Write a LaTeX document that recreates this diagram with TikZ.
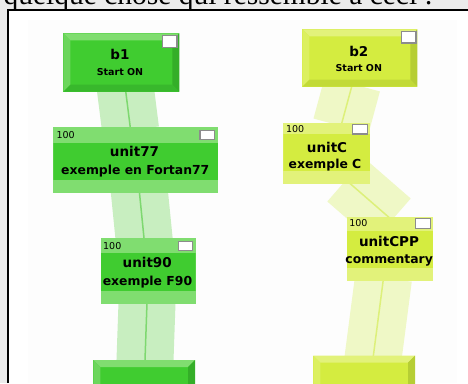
\documentclass[tikz,border=0pt]{standalone}
\usepackage{fontspec}
\setmainfont{Liberation Serif}
\newfontfamily\uifont{DejaVu Sans}
\usetikzlibrary{calc}

% palette
\definecolor{pagegray}{HTML}{EBEBEB}
\definecolor{panel}{HTML}{FDFDFD}
\definecolor{gface}{HTML}{40CC30}
\definecolor{glight}{HTML}{80DD70}
\definecolor{gleft}{HTML}{6CD65C}
\definecolor{gdark}{HTML}{34AE28}
\definecolor{gbottom}{HTML}{38B82C}
\definecolor{gband}{HTML}{C8EEC0}
\definecolor{gline}{HTML}{7ED870}
\definecolor{yface}{HTML}{D4EC40}
\definecolor{ylight}{HTML}{E2F27A}
\definecolor{yleft}{HTML}{DCF060}
\definecolor{ydark}{HTML}{B6CE34}
\definecolor{ybottom}{HTML}{C2DA38}
\definecolor{yband}{HTML}{EFF8C6}
\definecolor{yline}{HTML}{DDF07A}
\definecolor{chkgray}{HTML}{8C8C8C}

\tikzset{
  % raised block with a bevelled rim: top, left, right, bottom colours
  bevel/.style n args={4}{rectangle, inner sep=0pt, path picture={
    \fill[#1] (path picture bounding box.north west) -- (path picture bounding box.north east)
      -- ([xshift=-7pt,yshift=-7pt]path picture bounding box.north east)
      -- ([xshift=7pt,yshift=-7pt]path picture bounding box.north west) -- cycle;
    \fill[#2] (path picture bounding box.north west) -- ([xshift=7pt,yshift=-7pt]path picture bounding box.north west)
      -- ([xshift=7pt,yshift=7pt]path picture bounding box.south west)
      -- (path picture bounding box.south west) -- cycle;
    \fill[#3] (path picture bounding box.north east) -- ([xshift=-7pt,yshift=-7pt]path picture bounding box.north east)
      -- ([xshift=-7pt,yshift=7pt]path picture bounding box.south east)
      -- (path picture bounding box.south east) -- cycle;
    \fill[#4] (path picture bounding box.south west) -- ([xshift=7pt,yshift=7pt]path picture bounding box.south west)
      -- ([xshift=-7pt,yshift=7pt]path picture bounding box.south east)
      -- (path picture bounding box.south east) -- cycle;
  }},
  gblock/.style={bevel={glight}{gleft}{gdark}{gbottom}, fill=gface},
  yblock/.style={bevel={ylight}{yleft}{ydark}{ybottom}, fill=yface},
  % unit: light header and footer strips around a coloured body
  unitbox/.style n args={3}{rectangle, inner sep=0pt, fill=#1, path picture={
    \fill[#2] ([yshift=-#3pt]path picture bounding box.north west)
      rectangle ([yshift=13pt]path picture bounding box.south east);
  }},
  gunit/.style={unitbox={glight}{gface}{#1}},
  yunit/.style={unitbox={ylight}{yface}{#1}},
  chk/.style={rectangle, draw=chkgray, line width=1.3pt, fill=white, inner sep=0pt,
    minimum width=14.5pt, minimum height=9.5pt, anchor=north east},
  bchk/.style={chk, minimum height=11.5pt},
  ttl/.style={font=\uifont\bfseries\fontsize{13.5}{14}\selectfont, inner sep=0pt, anchor=base},
  sub/.style={font=\uifont\bfseries\fontsize{12.4}{13}\selectfont, inner sep=0pt, anchor=base},
  bsub/.style={font=\uifont\bfseries\fontsize{9.5}{10}\selectfont, inner sep=0pt, anchor=base},
  num/.style={font=\uifont\fontsize{9.5}{10}\selectfont, inner sep=0pt, anchor=base west},
  gpipe/.style={draw=gband, line width=57pt},
  gcore/.style={draw=gline, line width=1.5pt},
  ypipe/.style={draw=yband, line width=57pt},
  ycore/.style={draw=yline, line width=1.5pt},
}

\begin{document}
\begin{tikzpicture}[x=1pt,y=-1pt]
\useasboundingbox (0,0) rectangle (468,383);
\clip (0,0) rectangle (468,383);

% page and framed panel
\fill[pagegray] (0,0) rectangle (468,383);
\fill[white] (8,10) rectangle (468,383);
\fill[panel] (28,20) rectangle (457,383);
\node[font=\fontsize{29.5}{31}\selectfont, anchor=base east, inner sep=0pt] (caption) at (433,4.5)
  {quelque chose qui ressemble à ceci :};
\draw[line width=1.8pt] (8,383) -- (8,10) -- (468,10);

% link end points
\coordinate (g1s) at (125.3,88);  \coordinate (g1e) at (130.6,130);
\coordinate (g2s) at (139.2,190); \coordinate (g2e) at (144.3,241);
\coordinate (g3s) at (147.1,300); \coordinate (g3e) at (144.2,383);
\coordinate (y1s) at (352.4,84);  \coordinate (y1e) at (341,126);
\coordinate (y2s) at (346,180);   \coordinate (y2e) at (392,220);
\coordinate (y3s) at (383.5,278); \coordinate (y3e) at (369.8,383);

% links (behind the blocks)
\foreach \a/\b in {g1s/g1e, g2s/g2e, g3s/g3e} {
  \draw[gpipe] (\a) -- (\b);
  \draw[gcore] (\a) -- (\b);
}
\foreach \a/\b in {y1s/y1e, y2s/y2e, y3s/y3e} {
  \draw[ypipe] (\a) -- (\b);
  \draw[ycore] (\a) -- (\b);
}

% left chain
\node[gblock, minimum width=116pt, minimum height=58.4pt] (b1) at (121.3,62.5) {};
\node[bchk] (b1c) at ($(b1.north east)+(-2,2)$) {};
\node[ttl] (b1t) at (120,59) {b1};
\node[bsub] (b1s) at (120,75.7) {Start ON};

\node[gunit=15.4, minimum width=165pt, minimum height=65.4pt] (u77) at (135.8,160) {};
\node[chk] (u77c) at ($(u77.north east)+(-3.5,2.5)$) {};
\node[num] (u77n) at ($(u77.north west)+(3.2,11.4)$) {100};
\node[ttl] (u77t) at (134.5,156.7) {unit77};
\node[sub] (u77s) at (135.3,174.3) {exemple en Fortan77};

\node[gunit=14.4, minimum width=95pt, minimum height=65.7pt] (u90) at (148.2,271.15) {};
\node[chk] (u90c) at ($(u90.north east)+(-2.5,2.5)$) {};
\node[num] (u90n) at ($(u90.north west)+(2.5,11.7)$) {100};
\node[ttl] (u90t) at (147.2,267.7) {unit90};
\node[sub] (u90s) at (147.5,285) {exemple F90};

\node[gblock, minimum width=101.7pt, minimum height=58pt] (g4) at (144.15,389) {};

% right chain
\node[yblock, minimum width=115pt, minimum height=57.4pt] (b2) at (359.8,58) {};
\node[bchk] (b2c) at ($(b2.north east)+(-0.8,1.7)$) {};
\node[ttl] (b2t) at (358.8,56.7) {b2};
\node[bsub] (b2s) at (358.8,71.7) {Start ON};

\node[yunit=11.6, minimum width=86.7pt, minimum height=61.3pt] (uc) at (326.65,153.35) {};
\node[chk] (ucc) at ($(uc.north east)+(-2.3,1.3)$) {};
\node[num] (ucn) at ($(uc.north west)+(2.7,9.6)$) {100};
\node[ttl] (uct) at (327,152.3) {unitC};
\node[sub] (ucs) at (325,168.3) {exemple C};

\node[yunit=14, minimum width=86.6pt, minimum height=64.3pt] (ucpp) at (390,248.85) {};
\node[chk] (ucppc) at ($(ucpp.north east)+(-2.6,1.6)$) {};
\node[num] (ucppn) at ($(ucpp.north west)+(2.6,10)$) {100};
\node[ttl] (ucppt) at (389,246) {unitCPP};
\node[sub] (ucpps) at (389.2,263.3) {commentary};

\node[yblock, minimum width=101.7pt, minimum height=58pt] (y4) at (364.15,384.7) {};
\end{tikzpicture}
\end{document}
